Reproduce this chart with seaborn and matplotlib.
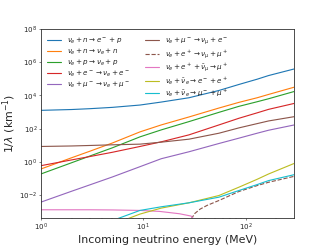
import numpy as np
import pandas as pd
import matplotlib
matplotlib.use("Agg")
import matplotlib.pyplot as plt
import seaborn as sns
from matplotlib.ticker import NullLocator

# Energies (MeV) and log10(1/lambda [km^-1])
x_main   = [1, 2, 3, 5, 9.3, 15, 28, 55, 86, 130, 168, 300]
blue_l   = [3.10, 3.15, 3.20, 3.28, 3.42, 3.60, 3.86, 4.30, 4.66, 4.98, 5.20, 5.60]
orange_l = [-0.44, 0.24, 0.63, 1.13, 1.80, 2.22, 2.70, 3.24, 3.58, 3.86, 4.06, 4.50]
green_l  = [-0.74, -0.06, 0.34, 0.84, 1.50, 1.92, 2.42, 2.98, 3.34, 3.62, 3.80, 4.24]
red_l    = [-0.24, 0.11, 0.31, 0.57, 0.92, 1.20, 1.62, 2.22, 2.62, 2.95, 3.16, 3.52]
brown_l  = [0.92, 0.95, 0.98, 1.02, 1.06, 1.18, 1.36, 1.72, 2.04, 2.30, 2.46, 2.72]
purple_l = [-2.44, -1.78, -1.40, -0.92, -0.30, 0.18, 0.60, 1.10, 1.42, 1.72, 1.90, 2.22]

x_pink = [1, 3, 5, 9.3, 14.5, 22.6, 29.4, 31, 33]
pink_l = [-2.90, -2.90, -2.91, -2.94, -3.00, -3.14, -3.28, -3.45, -3.80]

x_dash = [29.5, 32, 36, 42, 55, 86, 130, 168, 300]
dash_l = [-3.45, -3.12, -2.86, -2.64, -2.34, -1.80, -1.44, -1.24, -0.88]

x_ee    = [5, 7, 9.3, 15, 28, 55, 86, 130, 168, 300]
cyan_l  = [-3.55, -3.22, -2.94, -2.72, -2.48, -2.14, -1.74, -1.38, -1.14, -0.78]
olive_l = [-3.95, -3.45, -3.16, -2.80, -2.48, -2.04, -1.54, -1.06, -0.74, -0.10]

labels = [
    r'$\nu_e + n \rightarrow e^- + p$',
    r'$\nu_e + n \rightarrow \nu_e + n$',
    r'$\nu_e + p \rightarrow \nu_e + p$',
    r'$\nu_e + e^- \rightarrow \nu_e + e^-$',
    r'$\nu_e + \mu^- \rightarrow \nu_e + \mu^-$',
    r'$\nu_e + \mu^- \rightarrow \nu_\mu + e^-$',
    r'$\nu_e + e^+ \rightarrow \nu_\mu + \mu^+$',
    r'$\nu_e + e^+ + \bar{\nu}_\mu \rightarrow \mu^+$',
    r'$\nu_e + \bar{\nu}_e \rightarrow e^- + e^+$',
    r'$\nu_e + \bar{\nu}_e \rightarrow \mu^- + \mu^+$',
]
series = [
    (x_main, blue_l), (x_main, orange_l), (x_main, green_l), (x_main, red_l),
    (x_main, purple_l), (x_main, brown_l), (x_dash, dash_l), (x_pink, pink_l),
    (x_ee, olive_l), (x_ee, cyan_l),
]
colors = ['#1f77b4', '#ff7f0e', '#2ca02c', '#d62728', '#9467bd',
          '#8c564b', '#8c564b', '#e377c2', '#bcbd22', '#17becf']
styles = ['-'] * 6 + ['--'] + ['-'] * 3

rows = []
for lab, (xs, ls) in zip(labels, series):
    for xv, lv in zip(xs, ls):
        rows.append({'E': xv, 'rate': 10.0 ** lv, 'process': lab})
df = pd.DataFrame(rows)

sns.set_style("ticks")
plt.rcParams['font.family'] = ['DejaVu Sans']
fig = plt.figure(figsize=(6.4, 4.8), dpi=100)
ax = fig.add_axes([0.125, 0.11, 0.775, 0.77])

for lab, c, s in zip(labels, colors, styles):
    sub = df[df['process'] == lab]
    sns.lineplot(data=sub, x='E', y='rate', ax=ax, color=c, linestyle=s,
                 linewidth=1.6, label=lab, estimator=None, sort=True)

ax.set_xscale('log')
ax.set_yscale('log')
ax.set_xlim(1, 300)
ax.set_ylim(4e-4, 1e8)
ax.set_yticks([1e-2, 1e0, 1e2, 1e4, 1e6, 1e8])
ax.yaxis.set_minor_locator(NullLocator())
ax.tick_params(labelsize=10, length=3.5, width=0.8, pad=1.5)
ax.tick_params(which='minor', length=2, width=0.6)
ax.set_xlabel('Incoming neutrino energy (MeV)', fontsize=15.5, labelpad=2)
ax.set_ylabel(r'$1/\lambda$ (km$^{-1}$)', fontsize=15.5, labelpad=2)
for sp in ax.spines.values():
    sp.set_linewidth(1.2)
    sp.set_color('#333333')

ax.legend(loc='upper left', ncol=2, fontsize=10, frameon=False,
          labelspacing=0.1)

fig.savefig('out.png', dpi=51.1)
